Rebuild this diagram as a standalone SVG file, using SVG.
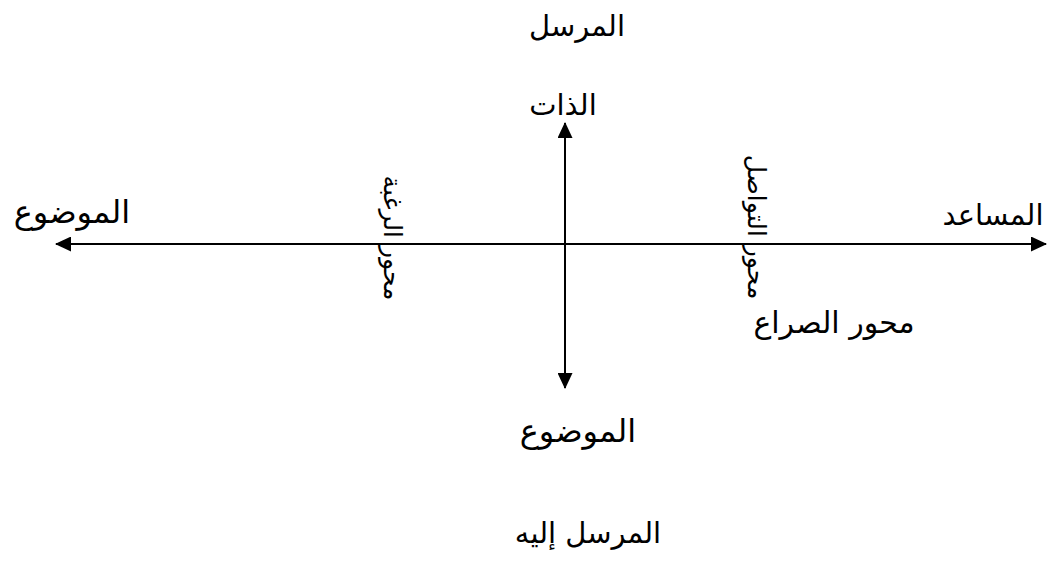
<svg xmlns="http://www.w3.org/2000/svg" width="1048" height="563" viewBox="0 0 1048 563">
<style>
text{font-family:"DejaVu Sans","Noto Sans",sans-serif;font-size:29px;fill:#000}
.v{font-size:25px}
line{stroke:#000;stroke-width:2}
</style>
<defs>
<marker id="ah" viewBox="0 0 16 15" refX="15" refY="7.5" markerWidth="16" markerHeight="15" markerUnits="userSpaceOnUse" orient="auto-start-reverse">
<path d="M0,0 L16,7.5 L0,15 z" fill="#000"/>
</marker>
</defs>
<g id="connectors">
<line x1="56" y1="244" x2="1046" y2="244" marker-start="url(#ah)" marker-end="url(#ah)"/>
<line x1="565" y1="123" x2="565" y2="388" marker-start="url(#ah)" marker-end="url(#ah)"/>
</g>
<g id="sender"><text x="577" y="36" text-anchor="middle" direction="rtl">المرسل</text></g>
<g id="subject"><text x="563" y="115" text-anchor="middle" direction="rtl">الذات</text></g>
<g id="object-left"><text x="72" y="223" text-anchor="middle" direction="rtl" style="font-size:32px">الموضوع</text></g>
<g id="helper"><text x="993" y="225" text-anchor="middle" direction="rtl">المساعد</text></g>
<g id="object-bottom"><text x="578" y="442" text-anchor="middle" direction="rtl" style="font-size:32px">الموضوع</text></g>
<g id="receiver"><text x="588" y="543" text-anchor="middle" direction="rtl">المرسل إليه</text></g>
<g id="conflict"><text x="834" y="333" text-anchor="middle" direction="rtl" style="font-size:30px">محور الصراع</text></g>
<g id="desire-axis"><text class="v" transform="translate(384,238) rotate(90)" text-anchor="middle" direction="rtl">محور الرغبة</text></g>
<g id="communication-axis"><text class="v" transform="translate(748,227) rotate(90)" text-anchor="middle" direction="rtl">محور التواصل</text></g>
</svg>
